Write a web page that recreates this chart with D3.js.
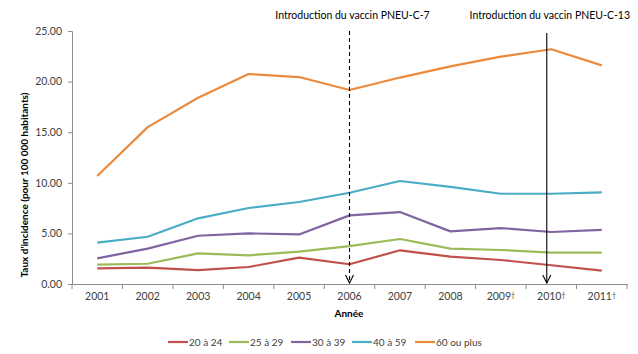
<!DOCTYPE html>
<html><head><meta charset="utf-8">
<script src="https://cdn.jsdelivr.net/npm/d3@7/dist/d3.min.js"></script>
<style>body{margin:0;background:#fff;} text{font-family:Lato,"Open Sans",sans-serif;}</style>
</head><body>
<svg id="c" width="638" height="354"></svg>
<script>
const years = ["2001","2002","2003","2004","2005","2006","2007","2008","2009†","2010†","2011†"];
const seriesNames = ["20 à 24","25 à 29","30 à 39","40 à 59","60 ou plus"];
const colors = ["#C0504D","#9BBB59","#8064A2","#4BACC6","#EB8A3C"];
const s20_24 = [1.55,1.61,1.38,1.68,2.60,1.95,3.33,2.70,2.37,1.85,1.32];
const s25_29 = [1.91,2.00,3.03,2.83,3.20,3.75,4.45,3.49,3.36,3.10,3.10];
const s30_39 = [2.54,3.49,4.77,5.00,4.90,6.78,7.11,5.20,5.53,5.14,5.34];
const s40_59 = [4.08,4.67,6.49,7.51,8.10,9.02,10.18,9.60,8.92,8.92,9.06];
const s60 = [10.67,15.50,18.40,20.75,20.45,19.17,20.40,21.50,22.46,23.20,21.60];
const yTicks = [0,5,10,15,20,25];
const annotations = [
  {year:"2006", label:"Introduction du vaccin PNEU-C-7", dashed:true, shift:0},
  {year:"2010†", label:"Introduction du vaccin PNEU-C-13", dashed:false, shift:-0.09}
];
const allSeries = [s20_24,s25_29,s30_39,s40_59,s60];

const svg = d3.select("#c");
const m = {l:72, r:627, t:31, b:284};
const x = d3.scaleBand().domain(years).range([m.l, m.r]);
const y = d3.scaleLinear().domain([0,25]).range([m.b, m.t]);
const axisColor = "#8c8c8c";

// y axis
const ya = svg.append("g").attr("transform",`translate(${m.l},0)`)
  .call(d3.axisLeft(y).tickValues(yTicks).tickFormat(d3.format(".2f")).tickSize(4).tickPadding(6));
ya.select(".domain").attr("stroke",axisColor);
ya.selectAll(".tick line").attr("stroke",axisColor);
ya.selectAll("text").attr("fill","#404040").style("font-size","10.5px");

// x axis
const xa = svg.append("g").attr("transform",`translate(0,${m.b})`)
  .call(d3.axisBottom(x).tickSize(0).tickPadding(9));
xa.select(".domain").attr("stroke",axisColor);
xa.selectAll("text").attr("fill","#404040").style("font-size","10.5px")
  .each(function(d){
    const t = d3.select(this);
    if (d.endsWith("†")) {
      t.text(null);
      t.append("tspan").text(d.slice(0,-1));
      t.append("tspan").attr("dy","-0.3em").style("font-size","7px").text("†");
    }
  });
// boundary ticks
const bounds = years.map(d=>x(d)).concat([m.r]);
svg.append("g").selectAll("line").data(bounds).join("line")
  .attr("x1",d=>d).attr("x2",d=>d).attr("y1",m.b).attr("y2",m.b+5)
  .attr("stroke",axisColor);

// lines
const line = d3.line().x((d,i)=>x(years[i])+x.bandwidth()/2).y(d=>y(d));
allSeries.forEach((s,k)=>{
  svg.append("path").datum(s).attr("d",line).attr("fill","none")
    .attr("stroke",colors[k]).attr("stroke-width",2.2).attr("stroke-linejoin","round");
});

// annotations
annotations.forEach(a=>{
  const ax = x(a.year)+x.bandwidth()*(0.5+a.shift);
  svg.append("line").attr("x1",ax).attr("x2",ax).attr("y1",y(25)+(a.dashed?0:2)).attr("y2",y(0)-1)
    .attr("stroke","#000").attr("stroke-width",1.1).attr("stroke-dasharray",a.dashed?"4,3":null);
  svg.append("path").attr("d",`M${ax-4},${y(0)-9}L${ax},${y(0)-1}L${ax+4},${y(0)-9}`)
    .attr("fill","none").attr("stroke","#000").attr("stroke-width",1.1);
  svg.append("text").attr("x",ax+3).attr("y",19).attr("text-anchor","middle")
    .style("font-size","10.5px").attr("fill","#000").text(a.label);
});

// axis titles
svg.append("text").attr("x",349).attr("y",317).attr("text-anchor","middle")
  .style("font-size","10px").style("font-weight","bold").attr("fill","#000").text("Année");
svg.append("text").attr("transform","translate(28,185) rotate(-90)").attr("text-anchor","middle")
  .style("font-size","10px").style("font-weight","bold").attr("fill","#000")
  .text("Taux d'incidence (pour 100 000 habitants)");

// legend
const legX = [168,229,291,352,415];
const lg = svg.append("g");
seriesNames.forEach((n,k)=>{
  lg.append("line").attr("x1",legX[k]).attr("x2",legX[k]+20).attr("y1",342).attr("y2",342)
    .attr("stroke",colors[k]).attr("stroke-width",2.2);
  lg.append("text").attr("x",legX[k]+21).attr("y",346).style("font-size","10px")
    .attr("fill","#404040").text(n);
});
</script>
</body></html>
